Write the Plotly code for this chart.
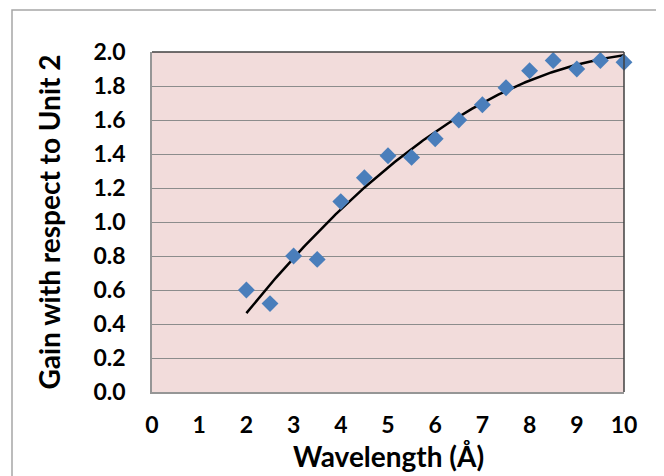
import numpy as np
import plotly.graph_objects as go

wavelength = [2, 2.5, 3, 3.5, 4, 4.5, 5, 5.5, 6, 6.5, 7, 7.5, 8, 8.5, 9, 9.5, 10]
gain = [0.60, 0.52, 0.80, 0.78, 1.12, 1.26, 1.39, 1.38, 1.49, 1.60, 1.69, 1.79, 1.89, 1.95, 1.90, 1.95, 1.94]
x_ticks = list(range(0, 11))
y_ticks = [round(0.2 * i, 1) for i in range(11)]

# quadratic trendline (Excel-style polynomial fit)
coef = np.polyfit(wavelength, gain, 2)
xt = np.linspace(2, 10, 200)
yt = np.polyval(coef, xt)

FONT = "Lato"
fig = go.Figure()
fig.add_trace(go.Scatter(x=xt, y=yt, mode="lines",
                         line=dict(color="black", width=2.5), hoverinfo="skip"))
fig.add_trace(go.Scatter(x=wavelength, y=gain, mode="markers",
                         marker=dict(symbol="diamond", size=13, color="#4A7EBB"),
                         cliponaxis=False))

# page has an 8px body margin, so the figure is drawn 8px in from the window edge
OFF = 8
W, H = 664 - OFF, 476 - OFF
L, T = 152 - OFF, 52 - OFF
R, B = W - (624 - OFF), H - (392 - OFF)
pw, ph = W - L - R, H - T - B

def px(xp):
    return (xp - OFF - L) / pw

def py(yp):
    return (H - B - (yp - OFF)) / ph

fig.update_layout(
    width=W, height=H, showlegend=False,
    margin=dict(l=L, r=R, t=T, b=B, autoexpand=False),
    paper_bgcolor="white", plot_bgcolor="#F2DCDB",
    font=dict(family=FONT, color="black"),
    shapes=[
        dict(type="rect", xref="paper", yref="paper",
             x0=px(12), x1=px(720), y0=py(10), y1=py(540),
             line=dict(color="#A6A6A6", width=1.5), layer="below"),
        dict(type="line", xref="paper", yref="paper", x0=0, x1=1, y0=1, y1=1,
             line=dict(color="#404040", width=1.5)),
        dict(type="line", xref="paper", yref="paper", x0=1, x1=1, y0=0, y1=1,
             line=dict(color="#404040", width=1.5)),
    ],
    annotations=[
        dict(text="Wavelength (Å)", xref="paper", yref="paper",
             x=0.5, y=py(456), xanchor="center", yanchor="middle", showarrow=False,
             font=dict(family=FONT, size=28, color="black", weight="bold")),
    ],
)
fig.update_xaxes(range=[0, 10], tickvals=x_ticks, ticktext=[str(v) for v in x_ticks],
                 showgrid=False, zeroline=False, showline=True, linecolor="#969696", linewidth=1.5,
                 ticks="", ticklabelstandoff=12, automargin=False,
                 tickfont=dict(family=FONT, size=23, color="black", weight="bold"))
fig.update_yaxes(range=[0, 2.0], tickvals=y_ticks, ticktext=[f"{v:.1f}" for v in y_ticks],
                 showgrid=True, gridcolor="#8C8C8C", gridwidth=1, zeroline=False,
                 showline=True, linecolor="#969696", linewidth=1.5,
                 ticks="", ticklabelstandoff=20, automargin=False,
                 tickfont=dict(family=FONT, size=23, color="black", weight="bold"),
                 title=dict(text="Gain with respect to Unit 2", standoff=25,
                            font=dict(family=FONT, size=28, color="black", weight="bold")))

fig.write_html("out.html")
